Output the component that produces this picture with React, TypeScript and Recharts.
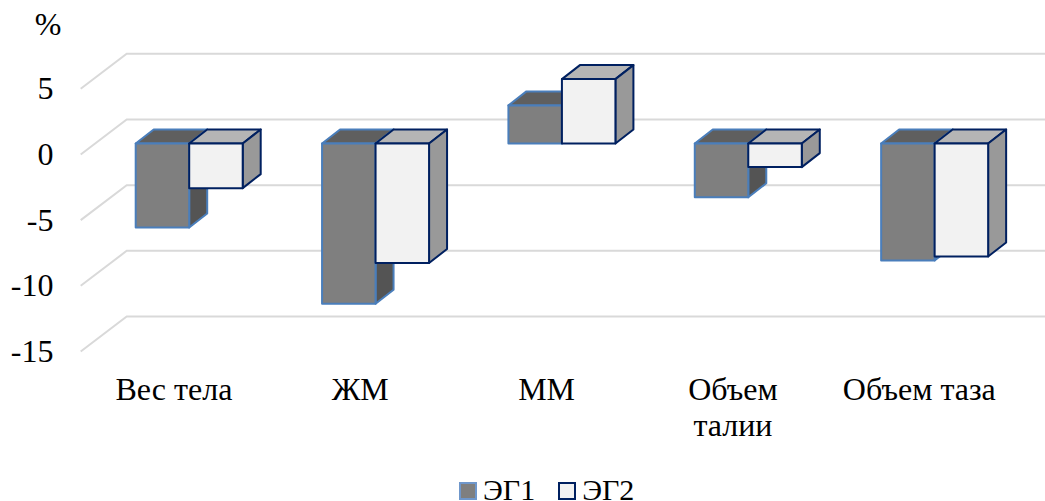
import { BarChart, Bar, CartesianGrid, XAxis, YAxis, Legend } from 'recharts';

const categories = ['Вес тела', 'ЖМ', 'ММ', 'Объем талии', 'Объем таза'];
const eg1 = [-6.4, -12.2, 2.9, -4.1, -8.9];
const eg2 = [-3.4, -9.1, 4.9, -1.8, -8.6];
const yTicks = [-15, -10, -5, 0, 5];
const xLabelLines: Record<string, string[]> = { 'Объем талии': ['Объем', 'талии'] };

const FONT = '"Liberation Serif", "Times New Roman", serif';
const FONT_SIZE = 32;
const LEGEND_FONT_SIZE = 30;
const TEXT = '#000';

const chartData = categories.map((name, i) => ({ name, eg1: eg1[i], eg2: eg2[i] }));

// depth of a bar, and how far the back wall sits behind the bars
const DX = 18;
const DY = 14;
const WALL_DX = 31;
const WALL_DY = 24;
const FLOOR_DX = 46;
const FLOOR_DY = 35;

function box(colors: { front: string; top: string; side: string; stroke: string; width: number }) {
  return (props: any) => {
    const top = Math.min(props.y, props.y + props.height);
    const bottom = Math.max(props.y, props.y + props.height);
    const left = props.x;
    const right = props.x + props.width;
    const common = { stroke: colors.stroke, strokeWidth: colors.width, strokeLinejoin: 'round' as const };
    return (
      <g>
        <polygon
          points={`${left},${top} ${left + DX},${top - DY} ${right + DX},${top - DY} ${right},${top}`}
          fill={colors.top}
          {...common}
        />
        <polygon
          points={`${right},${top} ${right + DX},${top - DY} ${right + DX},${bottom - DY} ${right},${bottom}`}
          fill={colors.side}
          {...common}
        />
        <rect x={left} y={top} width={props.width} height={bottom - top} fill={colors.front} {...common} />
      </g>
    );
  };
}

const box1 = box({ front: '#7f7f7f', top: '#5f5f5f', side: '#545454', stroke: '#4a7ebb', width: 2 });
const box2 = box({ front: '#f2f2f2', top: '#b5b5b5', side: '#999999', stroke: '#002060', width: 2 });

function gridLine(props: any) {
  const backX = props.x1 + WALL_DX;
  const backY = props.y1 - WALL_DY;
  return (
    <polyline
      key={props.key ?? props.y1}
      points={`${backX - FLOOR_DX},${backY + FLOOR_DY} ${backX},${backY} ${props.x2 + WALL_DX},${backY}`}
      fill="none"
      stroke="#d9d9d9"
      strokeWidth={2}
    />
  );
}

function YTick({ y, payload }: any) {
  return (
    <text x={53.5} y={y + 21.5} textAnchor="end" fontFamily={FONT} fontSize={FONT_SIZE} fill={TEXT}>
      {payload.value}
    </text>
  );
}

function XTick({ x, payload }: any) {
  const lines = xLabelLines[payload.value] ?? [payload.value];
  return (
    <text textAnchor="middle" fontFamily={FONT} fontSize={FONT_SIZE} fill={TEXT}>
      {lines.map((line, i) => (
        <tspan key={line} x={x - 15} y={400 + i * 36}>
          {line}
        </tspan>
      ))}
    </text>
  );
}

function LegendContent() {
  const item = (label: string, fill: string, stroke: string, gap: number) => (
    <span key={label} style={{ display: 'inline-flex', alignItems: 'center', marginRight: gap }}>
      <span
        style={{
          display: 'inline-block',
          boxSizing: 'border-box',
          width: 18,
          height: 18,
          background: fill,
          border: `2px solid ${stroke}`,
          marginRight: 6,
          position: 'relative',
          top: 2,
        }}
      />
      {label}
    </span>
  );
  return (
    <div style={{ fontFamily: FONT, fontSize: LEGEND_FONT_SIZE, color: TEXT, paddingLeft: 459, lineHeight: '23px', whiteSpace: 'nowrap' }}>
      {item('ЭГ1', '#7f7f7f', '#6f97cb', 23)}
      {item('ЭГ2', '#f2f2f2', '#002060', 0)}
    </div>
  );
}

export default function App() {
  return (
    <div style={{ position: 'absolute', left: 0, top: 0, width: 1045, height: 501, background: '#fff', overflow: 'hidden' }}>
      <BarChart
        width={1045}
        height={501}
        data={chartData}
        barSize={53.5}
        barGap={0}
        margin={{ top: 77.8, right: 17.5, bottom: 60.5, left: 35.7 }}
      >
        <CartesianGrid vertical={false} horizontal={gridLine} />
        <XAxis dataKey="name" height={100} axisLine={false} tickLine={false} tick={<XTick />} interval={0} />
        <YAxis
          width={60}
          domain={[-15, 5]}
          ticks={yTicks}
          axisLine={false}
          tickLine={false}
          tick={<YTick />}
          interval={0}
        />
        <Legend
          layout="horizontal"
          verticalAlign="middle"
          align="center"
          content={<LegendContent />}
          wrapperStyle={{ left: 0, top: 476, width: 1045, height: 23 }}
        />
        <Bar dataKey="eg1" name="ЭГ1" shape={box1} isAnimationActive={false} />
        <Bar dataKey="eg2" name="ЭГ2" shape={box2} isAnimationActive={false} />
        <text x={48} y={35} textAnchor="middle" fontFamily={FONT} fontSize={FONT_SIZE} fill={TEXT}>
          %
        </text>
      </BarChart>
    </div>
  );
}
